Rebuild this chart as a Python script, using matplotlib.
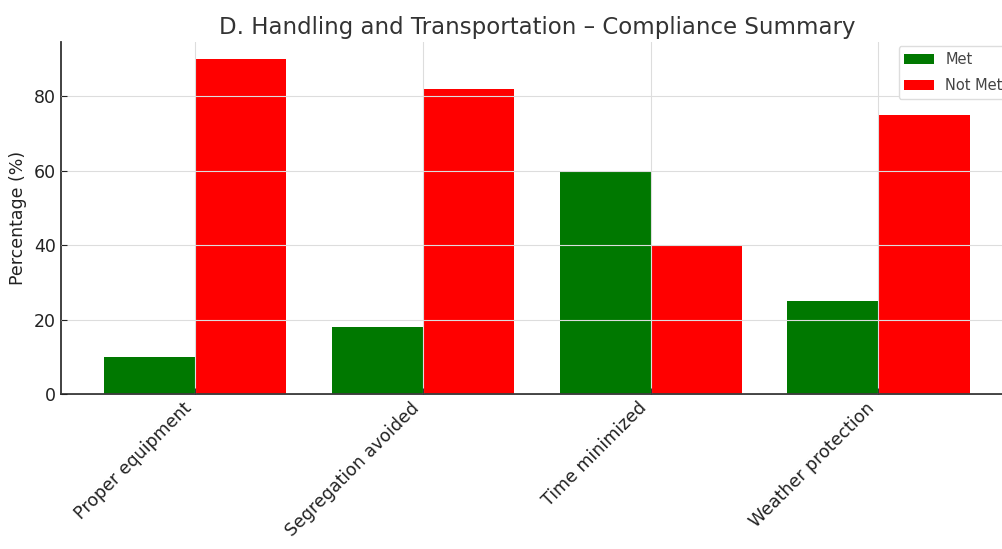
import numpy as np
import matplotlib
matplotlib.use("Agg")
import matplotlib.pyplot as plt

categories = ["Proper equipment", "Segregation avoided", "Time minimized", "Weather protection"]
met = [10, 18, 60, 25]
not_met = [90, 82, 40, 75]

fig = plt.figure(figsize=(10.03, 5.49), dpi=100)
ax = fig.add_axes([0.0608, 0.2823, 0.949, 0.6412])

x = np.arange(len(categories))
w = 0.4
ax.bar(x - w / 2, met, w, color="#007800", label="Met", zorder=1)
ax.bar(x + w / 2, not_met, w, color="#ff0000", label="Not Met", zorder=1)

ax.set_axisbelow(False)
ax.grid(True, color="#dddddd", linewidth=0.8, zorder=2)
for s in ("top", "right"):
    ax.spines[s].set_visible(False)
for s in ("left", "bottom"):
    ax.spines[s].set_color("#333333")
    ax.spines[s].set_linewidth(1.3)

ax.set_xticks(x)
ax.set_xticklabels(categories, rotation=45, ha="right", fontsize=12.5, color="#222222")
ax.tick_params(axis="both", direction="in", length=4, color="#333333")
ax.tick_params(axis="y", labelsize=12.5, colors="#222222")
ax.set_yticks([0, 20, 40, 60, 80])
ax.set_ylabel("Percentage (%)", fontsize=12.5, color="#222222", labelpad=5)
ax.set_title("D. Handling and Transportation – Compliance Summary", fontsize=16.5, color="#333333")
ax.legend(loc="upper right", fontsize=10.5, labelspacing=0.75, framealpha=1,
          edgecolor="#dddddd", labelcolor="#444444", borderaxespad=0.3)

fig.savefig("out.png", dpi=100)
